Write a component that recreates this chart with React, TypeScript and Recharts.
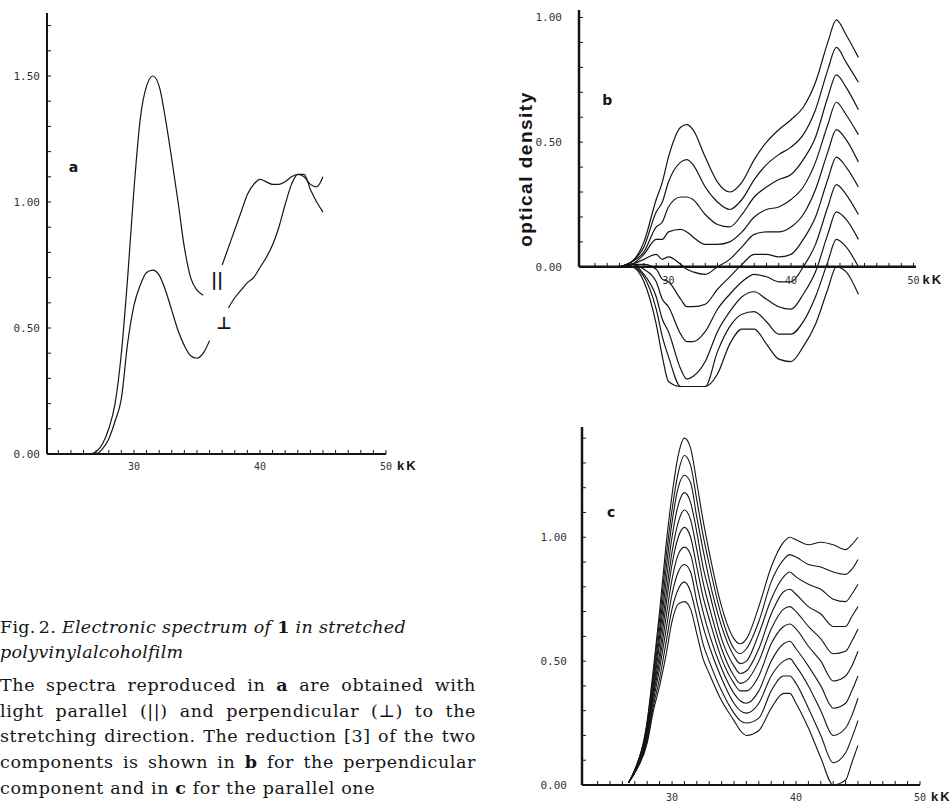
import React from "react"
import { LineChart, Line, XAxis, YAxis, ReferenceLine, ReferenceDot } from "recharts"

const INK = "#151515"
const MONO = "DejaVu Sans Mono, monospace"

// panel a — film spectrum, wavenumber in kK
const xA = [26.5, 27, 27.5, 28, 28.5, 29, 29.5, 30, 30.5, 31, 31.5, 32, 32.5, 33, 33.5, 34, 34.5, 35, 35.5, 36, 36.5, 37, 37.5, 38, 38.5, 39, 39.5, 40, 40.5, 41, 41.5, 42, 42.5, 43, 43.5, 44, 44.5, 45]
const parallel = [0, 0.01, 0.04, 0.1, 0.2, 0.4, 0.7, 1.05, 1.33, 1.46, 1.5, 1.46, 1.33, 1.17, 1.0, 0.82, 0.7, 0.65, 0.63, null, null, 0.75, 0.82, 0.89, 0.96, 1.03, 1.07, 1.09, 1.08, 1.07, 1.07, 1.08, 1.1, 1.11, 1.1, 1.07, 1.06, 1.1]
const perpendicular = [0, 0, 0.02, 0.06, 0.13, 0.22, 0.44, 0.59, 0.67, 0.72, 0.73, 0.71, 0.65, 0.57, 0.49, 0.43, 0.39, 0.38, 0.4, 0.45, null, null, 0.58, 0.62, 0.65, 0.68, 0.7, 0.74, 0.78, 0.83, 0.9, 0.99, 1.07, 1.11, 1.11, 1.05, 1.0, 0.96]

// panel b — reduction, perpendicular component
const xB = [26, 27, 28, 29, 29.5, 30, 31, 31.5, 32, 33, 34, 35, 36, 37, 38, 39, 40, 41, 42, 43, 43.7, 44.5, 45.5]
const b1 = [0, 0.02, 0.1, 0.27, 0.34, 0.44, 0.56, 0.57, 0.55, 0.44, 0.34, 0.3, 0.34, 0.43, 0.5, 0.55, 0.59, 0.64, 0.74, 0.9, 0.99, 0.93, 0.84]
const b2 = [0, 0.02, 0.08, 0.22, 0.26, 0.34, 0.42, 0.43, 0.41, 0.32, 0.26, 0.23, 0.27, 0.35, 0.41, 0.45, 0.48, 0.53, 0.63, 0.79, 0.88, 0.82, 0.74]
const b3 = [0, 0.02, 0.06, 0.16, 0.18, 0.24, 0.28, 0.28, 0.27, 0.21, 0.17, 0.16, 0.21, 0.28, 0.32, 0.35, 0.37, 0.43, 0.52, 0.68, 0.77, 0.72, 0.63]
const b4 = [0, 0.01, 0.05, 0.11, 0.11, 0.14, 0.15, 0.14, 0.12, 0.09, 0.09, 0.1, 0.14, 0.2, 0.23, 0.24, 0.27, 0.32, 0.42, 0.57, 0.66, 0.61, 0.53]
const b5 = [0, 0.01, 0.03, 0.05, 0.03, 0.04, 0.01, -0.01, -0.02, -0.03, 0, 0.03, 0.08, 0.13, 0.14, 0.14, 0.16, 0.21, 0.31, 0.46, 0.55, 0.51, 0.42]
const b6 = [0, 0.01, 0.01, -0.01, -0.05, -0.06, -0.13, -0.16, -0.16, -0.15, -0.09, -0.04, 0.01, 0.05, 0.05, 0.04, 0.05, 0.11, 0.2, 0.35, 0.44, 0.4, 0.32]
const b7 = [0, 0.01, -0.01, -0.06, -0.13, -0.16, -0.27, -0.3, -0.3, -0.26, -0.17, -0.11, -0.06, -0.03, -0.04, -0.06, -0.06, 0, 0.09, 0.24, 0.33, 0.29, 0.21]
const b8 = [0, 0.01, -0.03, -0.12, -0.21, -0.26, -0.41, -0.45, -0.44, -0.38, -0.26, -0.18, -0.12, -0.1, -0.13, -0.16, -0.17, -0.11, -0.02, 0.13, 0.22, 0.19, 0.11]
const b9 = [0, 0, -0.04, -0.17, -0.28, -0.36, -0.48, -0.48, -0.48, -0.48, -0.34, -0.24, -0.19, -0.18, -0.22, -0.27, -0.27, -0.22, -0.12, 0.02, 0.11, 0.08, 0]
const b10 = [0, 0, -0.06, -0.23, -0.36, -0.46, -0.48, -0.48, -0.48, -0.48, -0.43, -0.31, -0.25, -0.25, -0.31, -0.37, -0.38, -0.32, -0.23, -0.09, 0, -0.02, -0.11]

// panel c — reduction, parallel component
const xC = [26.5, 27, 28, 28.5, 29, 29.5, 30, 30.5, 31, 31.5, 32, 32.5, 33, 34, 35, 35.5, 36, 37, 38, 39, 39.5, 40, 41, 42, 43, 44, 44.5, 45]
const c1 = [0.01, 0.06, 0.26, 0.47, 0.7, 0.96, 1.17, 1.33, 1.4, 1.36, 1.22, 1.07, 0.94, 0.72, 0.59, 0.57, 0.59, 0.72, 0.88, 0.98, 1.0, 0.99, 0.97, 0.98, 0.97, 0.95, 0.97, 1.0]
const c2 = [0.01, 0.06, 0.25, 0.45, 0.67, 0.91, 1.11, 1.26, 1.33, 1.29, 1.15, 1.01, 0.89, 0.68, 0.55, 0.53, 0.55, 0.66, 0.82, 0.91, 0.93, 0.92, 0.89, 0.88, 0.86, 0.85, 0.87, 0.91]
const c3 = [0.01, 0.06, 0.24, 0.43, 0.63, 0.86, 1.06, 1.2, 1.25, 1.22, 1.08, 0.95, 0.83, 0.64, 0.52, 0.49, 0.5, 0.61, 0.75, 0.84, 0.86, 0.84, 0.81, 0.79, 0.75, 0.74, 0.77, 0.81]
const c4 = [0.01, 0.06, 0.23, 0.41, 0.6, 0.81, 1.0, 1.13, 1.18, 1.14, 1.02, 0.88, 0.78, 0.59, 0.48, 0.45, 0.46, 0.55, 0.69, 0.78, 0.79, 0.77, 0.72, 0.69, 0.64, 0.64, 0.68, 0.72]
const c5 = [0.01, 0.06, 0.22, 0.39, 0.57, 0.76, 0.94, 1.06, 1.11, 1.07, 0.95, 0.82, 0.72, 0.55, 0.44, 0.41, 0.42, 0.5, 0.63, 0.71, 0.72, 0.7, 0.64, 0.59, 0.53, 0.54, 0.58, 0.63]
const c6 = [0.01, 0.06, 0.21, 0.38, 0.53, 0.72, 0.89, 1.0, 1.04, 1.0, 0.88, 0.76, 0.67, 0.51, 0.41, 0.38, 0.38, 0.44, 0.57, 0.64, 0.65, 0.63, 0.56, 0.5, 0.42, 0.44, 0.48, 0.54]
const c7 = [0.01, 0.05, 0.2, 0.36, 0.5, 0.67, 0.83, 0.93, 0.96, 0.93, 0.81, 0.7, 0.61, 0.47, 0.37, 0.34, 0.33, 0.38, 0.5, 0.57, 0.58, 0.55, 0.48, 0.4, 0.31, 0.33, 0.38, 0.44]
const c8 = [0.01, 0.05, 0.19, 0.34, 0.47, 0.62, 0.77, 0.86, 0.89, 0.86, 0.74, 0.64, 0.56, 0.43, 0.33, 0.3, 0.29, 0.33, 0.44, 0.5, 0.51, 0.48, 0.4, 0.3, 0.2, 0.23, 0.28, 0.35]
const c9 = [0.01, 0.05, 0.18, 0.32, 0.43, 0.57, 0.71, 0.79, 0.82, 0.78, 0.68, 0.57, 0.5, 0.38, 0.29, 0.26, 0.25, 0.27, 0.38, 0.44, 0.44, 0.41, 0.31, 0.2, 0.09, 0.13, 0.19, 0.26]
const c10 = [0.01, 0.05, 0.17, 0.3, 0.4, 0.52, 0.66, 0.73, 0.74, 0.71, 0.61, 0.51, 0.45, 0.34, 0.26, 0.22, 0.2, 0.22, 0.31, 0.37, 0.37, 0.33, 0.23, 0.11, 0, 0.02, 0.09, 0.16]

// axis ticks
const kKTicks = [24, 25, 26, 27, 28, 29, 30, 31, 32, 33, 34, 35, 36, 37, 38, 39, 40, 41, 42, 43, 44, 45, 46, 47, 48, 49, 50]
const labeledKK = [30, 40, 50]
const yTicksA = [0, 0.1, 0.2, 0.3, 0.4, 0.5, 0.6, 0.7, 0.8, 0.9, 1.0, 1.1, 1.2, 1.3, 1.4, 1.5, 1.6, 1.7]
const yTicksB = [0, 0.1, 0.2, 0.3, 0.4, 0.5, 0.6, 0.7, 0.8, 0.9, 1.0]
const yTicksC = [0, 0.1, 0.2, 0.3, 0.4, 0.5, 0.6, 0.7, 0.8, 0.9, 1.0, 1.1, 1.2, 1.3, 1.4]

const bSeries = [b1, b2, b3, b4, b5, b6, b7, b8, b9, b10]
const cSeries = [c1, c2, c3, c4, c5, c6, c7, c8, c9, c10]

const rowsA = xA.map((x, i) => ({ x, par: parallel[i], perp: perpendicular[i] }))
const toRows = (xs: number[], series: number[][], key: string) =>
  xs.map((x, i) => {
    const row: any = { x }
    series.forEach((s, k) => { row[key + k] = s[i] })
    return row
  })
const rowsB = toRows(xB, bSeries, "b")
const rowsC = toRows(xC, cSeries, "c")

const halfSteps = (v: number) => (Math.abs(v * 2 - Math.round(v * 2)) < 1e-6 ? v.toFixed(2) : "")

const KK = ({ x, y }: { x: number; y: number }) => (
  <text x={x} y={y} dy="0.71em" fontFamily="Liberation Sans, Arial" fontWeight="bold" fontSize={13} letterSpacing={2} fill={INK}>kK</text>
)

function XTick(props: any) {
  const { x, y, payload } = props
  const v = payload?.value
  if (!labeledKK.includes(v)) return <g />
  return (
    <g>
      <text x={x} y={y} dy="0.71em" textAnchor="middle" fontFamily={MONO} fontSize={10} fill="#333">{v}</text>
      {v === 50 && <KK x={x + 11} y={y - 2} />}
    </g>
  )
}

// text placed at a data point (labels inside panels)
const note = (text: string, size: number) => (p: any) => {
  const vb = p.viewBox || {}
  return (
    <text x={vb.x + (vb.width || 0) / 2} y={vb.y + (vb.height || 0) / 2} textAnchor="middle" dominantBaseline="central"
      fontFamily="DejaVu Sans, sans-serif" fontWeight="bold" fontSize={size} fill={INK}>{text}</text>
  )
}

// tick label under the floating zero line of panel b
const zeroLabel = (v: number) => (p: any) => {
  const vb = p.viewBox || {}
  const x = vb.x + (vb.width || 0) / 2
  const y = vb.y + 10
  return (
    <g>
      <text x={x} y={y} dy="0.71em" textAnchor="middle" fontFamily={MONO} fontSize={10} fill="#333">{v}</text>
      {v === 50 && <KK x={x + 9} y={y - 2} />}
    </g>
  )
}

const yTickStyle = { fontSize: 11, fontFamily: MONO, fill: "#333" }
const justified = { textAlign: "justify" as const, textAlignLast: "justify" as const, whiteSpace: "nowrap" as const }

export default function App() {
  return (
    <div style={{ position: "absolute", left: 0, top: 0, width: 951, height: 803, background: "#fff", overflow: "hidden" }}>
      {/* a */}
      <div style={{ position: "absolute", left: 0, top: 0 }}>
        <LineChart width={480} height={500} data={rowsA} margin={{ top: 13, right: 94, bottom: 16, left: 0 }}>
          <XAxis type="number" dataKey="x" domain={[23.1, 50]} allowDataOverflow ticks={kKTicks} interval={0} height={30}
            tickSize={-4} tickMargin={13} tick={<XTick />} axisLine={{ stroke: INK, strokeWidth: 2 }} tickLine={{ stroke: INK }} />
          <YAxis type="number" domain={[0, 1.75]} allowDataOverflow ticks={yTicksA} interval={0} width={47}
            tickSize={-4} tickMargin={11} tickFormatter={halfSteps} tick={yTickStyle}
            axisLine={{ stroke: INK, strokeWidth: 2 }} tickLine={{ stroke: INK }} />
          <Line dataKey="par" type="monotone" dot={false} stroke={INK} strokeWidth={1.2} isAnimationActive={false} />
          <Line dataKey="perp" type="monotone" dot={false} stroke={INK} strokeWidth={1.2} isAnimationActive={false} />
          <ReferenceDot x={25.2} y={1.14} r={0} ifOverflow="visible" label={{ content: note("a", 14) }} />
          <ReferenceDot x={36.6} y={0.69} r={0} ifOverflow="visible" label={{ content: note("||", 17) }} />
          <ReferenceDot x={37.15} y={0.52} r={0} ifOverflow="visible" label={{ content: note("⊥", 17) }} />
        </LineChart>
      </div>

      {/* b */}
      <div style={{ position: "absolute", left: 480, top: 0 }}>
        <LineChart width={471} height={400} data={rowsB} margin={{ top: 10, right: 35, bottom: 8.5, left: 39 }}>
          <XAxis type="number" dataKey="x" domain={[22.7, 50.2]} allowDataOverflow hide />
          <YAxis type="number" domain={[-0.5, 1.03]} allowDataOverflow ticks={yTicksB} interval={0} width={60}
            tickSize={-4} tickMargin={21} tickFormatter={halfSteps} tick={yTickStyle}
            axisLine={false} tickLine={{ stroke: INK }} />
          <ReferenceLine segment={[{ x: 22.7, y: 0 }, { x: 22.7, y: 1.03 }]} stroke={INK} strokeWidth={2.5} ifOverflow="visible" />
          <ReferenceLine y={0} stroke={INK} strokeWidth={2.5} ifOverflow="visible" />
          {kKTicks.map(t => (
            <ReferenceLine key={t} segment={[{ x: t, y: 0 }, { x: t, y: 0.016 }]} stroke={INK} ifOverflow="visible" />
          ))}
          {labeledKK.map(t => (
            <ReferenceDot key={"l" + t} x={t} y={0} r={0} ifOverflow="visible" label={{ content: zeroLabel(t) }} />
          ))}
          {bSeries.map((_, k) => (
            <Line key={k} dataKey={"b" + k} type="monotone" dot={false} stroke={INK} strokeWidth={1.2} isAnimationActive={false} />
          ))}
          <ReferenceDot x={25.0} y={0.67} r={0} ifOverflow="visible" label={{ content: note("b", 14) }} />
        </LineChart>
      </div>
      <svg style={{ position: "absolute", left: 505, top: 80 }} width={40} height={180}>
        <text transform="translate(27,89) rotate(-90)" textAnchor="middle" fontFamily="Liberation Sans, Arial" fontWeight="bold"
          fontSize={19} letterSpacing={1.5} fill={INK}>optical density</text>
      </svg>

      {/* c */}
      <div style={{ position: "absolute", left: 480, top: 400 }}>
        <LineChart width={471} height={403} data={rowsC} margin={{ top: 27, right: 31, bottom: 0, left: 42 }}>
          <XAxis type="number" dataKey="x" domain={[22.74, 50]} allowDataOverflow ticks={kKTicks} interval={0} height={18}
            tickSize={-4} tickMargin={13} tick={<XTick />} axisLine={{ stroke: INK, strokeWidth: 2 }} tickLine={{ stroke: INK }} />
          <YAxis type="number" domain={[0, 1.445]} allowDataOverflow ticks={yTicksC} interval={0} width={60}
            tickSize={-4} tickMargin={19} tickFormatter={halfSteps} tick={yTickStyle}
            axisLine={{ stroke: INK, strokeWidth: 2.5 }} tickLine={{ stroke: INK }} />
          {cSeries.map((_, k) => (
            <Line key={k} dataKey={"c" + k} type="monotone" dot={false} stroke={INK} strokeWidth={1.1} isAnimationActive={false} />
          ))}
          <ReferenceDot x={25.1} y={1.1} r={0} ifOverflow="visible" label={{ content: note("c", 14) }} />
        </LineChart>
      </div>

      {/* caption */}
      <div style={{ position: "absolute", left: 0, top: 615, width: 476, fontFamily: '"DejaVu Serif", serif', fontSize: 17.5, lineHeight: "25px", letterSpacing: 0.3, color: INK }}>
        <div>Fig.<span style={{ marginLeft: 3 }}>2.</span> <i>Electronic spectrum of </i><b>1</b><i> in stretched</i></div>
        <div><i>polyvinylalcoholfilm</i></div>
      </div>
      <div style={{ position: "absolute", left: 0, top: 673, width: 476, fontFamily: '"DejaVu Serif", serif', fontSize: 17.5, lineHeight: "25.7px", letterSpacing: 0.6, color: INK }}>
        <div style={justified}>The spectra reproduced in <b>a</b> are obtained with</div>
        <div style={justified}>light parallel (||) and perpendicular (⊥) to the</div>
        <div style={justified}>stretching direction. The reduction [3] of the two</div>
        <div style={justified}>components is shown in <b>b</b> for the perpendicular</div>
        <div style={{ whiteSpace: "nowrap" }}>component and in <b>c</b> for the parallel one</div>
      </div>
    </div>
  )
}
